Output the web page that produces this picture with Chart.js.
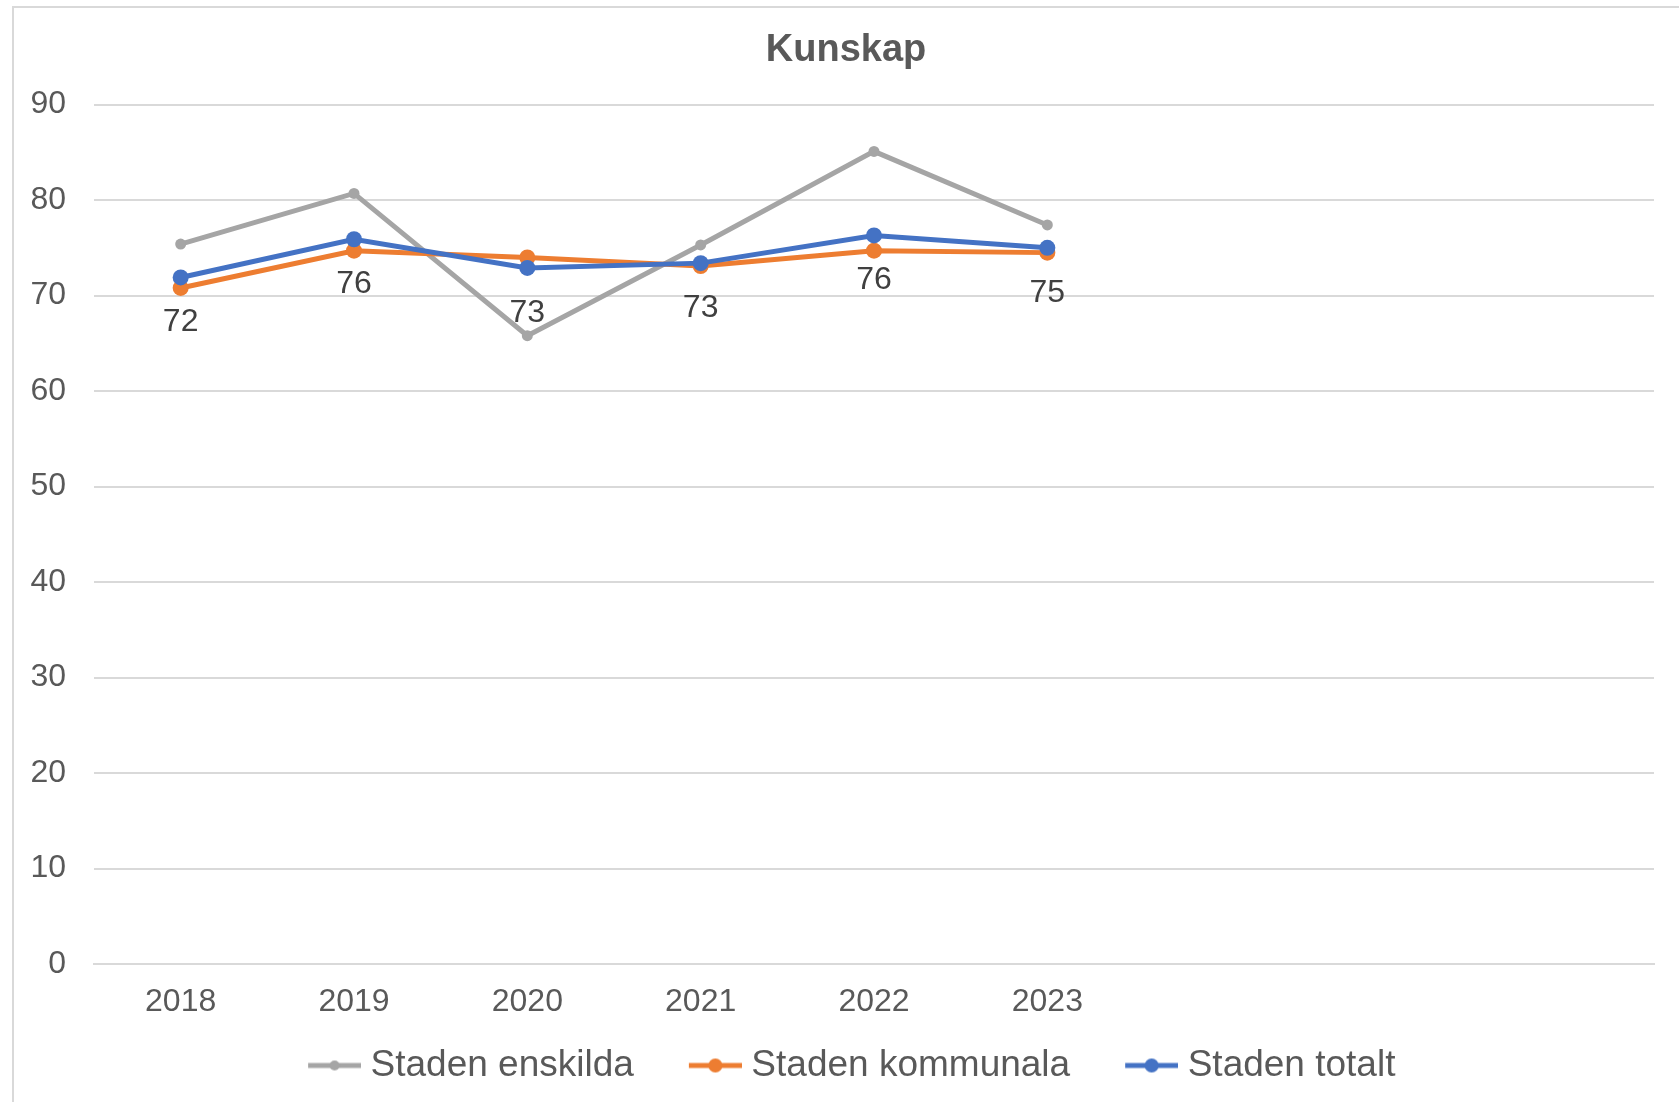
<!DOCTYPE html>
<html lang="sv">
<head>
  <meta charset="UTF-8" />
  <title>Kunskap</title>
  <script src="https://cdn.jsdelivr.net/npm/chart.js"></script>
  <style>
    html, body {
      margin: 0;
      padding: 0;
      background: #ffffff;
    }
    canvas {
      display: block;
    }
  </style>
</head>
<body>
  <canvas id="kunskap" width="1679" height="1102"></canvas>

  <script>
    // years on the x axis, the last three slots are empty in the original
    const years = ["2018", "2019", "2020", "2021", "2022", "2023", "", "", ""];
    const yTicks = [0, 10, 20, 30, 40, 50, 60, 70, 80, 90];

    const enskilda = [75.4, 80.7, 65.8, 75.3, 85.1, 77.4];
    const kommunala = [70.8, 74.7, 74.0, 73.1, 74.7, 74.5];
    const totalt = [71.9, 75.9, 72.9, 73.4, 76.3, 75.0];

    const GREY = "#a5a5a5";
    const ORANGE = "#ed7d31";
    const BLUE = "#4472c4";
    const TEXT = "#595959";
    const GRID = "#d9d9d9";
    const FONT = "'Liberation Sans', Arial, sans-serif";

    // legend marker: short line with a dot, like Excel.
    // canvas is wider than the marker so the empty part gives room between items
    const MARK_BOX = 74;
    function legendMarker(color, r) {
      const c = document.createElement("canvas");
      c.width = MARK_BOX + 18;
      c.height = 18;
      const g = c.getContext("2d");
      const x0 = c.width - 53;
      g.strokeStyle = color;
      g.lineWidth = 5;
      g.beginPath();
      g.moveTo(x0, 9);
      g.lineTo(c.width, 9);
      g.stroke();
      g.fillStyle = color;
      g.beginPath();
      g.arc(x0 + 26.5, 9, r, 0, Math.PI * 2);
      g.fill();
      return c;
    }
    const markers = [legendMarker(GREY, 5), legendMarker(ORANGE, 7), legendMarker(BLUE, 7)];

    // chart border (only top and left show in the picture)
    const borderPlugin = {
      id: "border",
      beforeDraw(chart) {
        const ctx = chart.ctx;
        ctx.save();
        ctx.strokeStyle = GRID;
        ctx.lineWidth = 2;
        ctx.strokeRect(13, 7, chart.width + 20, chart.height + 20);
        ctx.restore();
      }
    };

    // value labels under the "Staden totalt" points
    const valueLabels = {
      id: "valueLabels",
      afterDatasetsDraw(chart) {
        const ctx = chart.ctx;
        const meta = chart.getDatasetMeta(2);
        ctx.save();
        ctx.font = "32px " + FONT;
        ctx.fillStyle = "#404040";
        ctx.textAlign = "center";
        ctx.textBaseline = "middle";
        meta.data.forEach((pt, i) => {
          ctx.fillText(Math.round(totalt[i]).toString(), pt.x, pt.y + 45);
        });
        ctx.restore();
      }
    };

    new Chart(document.getElementById("kunskap").getContext("2d"), {
      type: "line",
      data: {
        labels: years,
        datasets: [
          {
            label: "Staden enskilda",
            data: enskilda,
            borderColor: GREY,
            backgroundColor: GREY,
            borderWidth: 5,
            pointRadius: 5.5,
            pointHoverRadius: 5.5,
            pointBorderWidth: 0,
            order: 3
          },
          {
            label: "Staden kommunala",
            data: kommunala,
            borderColor: ORANGE,
            backgroundColor: ORANGE,
            borderWidth: 5,
            pointRadius: 8,
            pointHoverRadius: 8,
            pointBorderWidth: 0,
            order: 2
          },
          {
            label: "Staden totalt",
            data: totalt,
            borderColor: BLUE,
            backgroundColor: BLUE,
            borderWidth: 5,
            pointRadius: 8,
            pointHoverRadius: 8,
            pointBorderWidth: 0,
            order: 1
          }
        ]
      },
      options: {
        responsive: false,
        animation: false,
        elements: {
          point: { pointStyle: "circle" },
          line: { tension: 0 }
        },
        layout: {
          padding: { left: 14, right: 1, top: 0, bottom: 8 }
        },
        plugins: {
          tooltip: { enabled: false },
          title: {
            display: true,
            text: "Kunskap",
            color: TEXT,
            font: { family: FONT, size: 38, weight: "bold" },
            padding: { top: 28, bottom: 31 }
          },
          legend: {
            position: "bottom",
            labels: {
              color: TEXT,
              font: { family: FONT, size: 37 },
              usePointStyle: true,
              pointStyleWidth: MARK_BOX,
              boxHeight: 37,
              padding: 6.5,
              sort: (a, b) => a.datasetIndex - b.datasetIndex,
              generateLabels(chart) {
                const items = Chart.defaults.plugins.legend.labels.generateLabels(chart);
                items.forEach(it => {
                  it.pointStyle = markers[it.datasetIndex];
                  it.text = it.text + "\u2002";
                });
                return items;
              }
            }
          }
        },
        scales: {
          x: {
            offset: true,
            grid: { display: false, drawTicks: false },
            border: { display: true, color: GRID, width: 2 },
            ticks: {
              color: TEXT,
              font: { family: FONT, size: 32 },
              padding: 19,
              maxRotation: 0,
              autoSkip: false
            }
          },
          y: {
            min: 0,
            max: 90,
            afterBuildTicks(axis) {
              axis.ticks = yTicks.map(v => ({ value: v }));
            },
            afterFit(axis) {
              axis.width = 80;
            },
            grid: { color: GRID, lineWidth: 2, drawTicks: false },
            border: { display: false },
            ticks: {
              color: TEXT,
              font: { family: FONT, size: 32 },
              padding: 28
            }
          },
          // empty right axis, only keeps the plot area off the right edge
          yRight: {
            position: "right",
            grid: { display: false, drawTicks: false },
            border: { display: false },
            ticks: { display: false },
            afterFit(axis) {
              axis.width = 24;
            }
          }
        }
      },
      plugins: [borderPlugin, valueLabels]
    });
  </script>
</body>
</html>
